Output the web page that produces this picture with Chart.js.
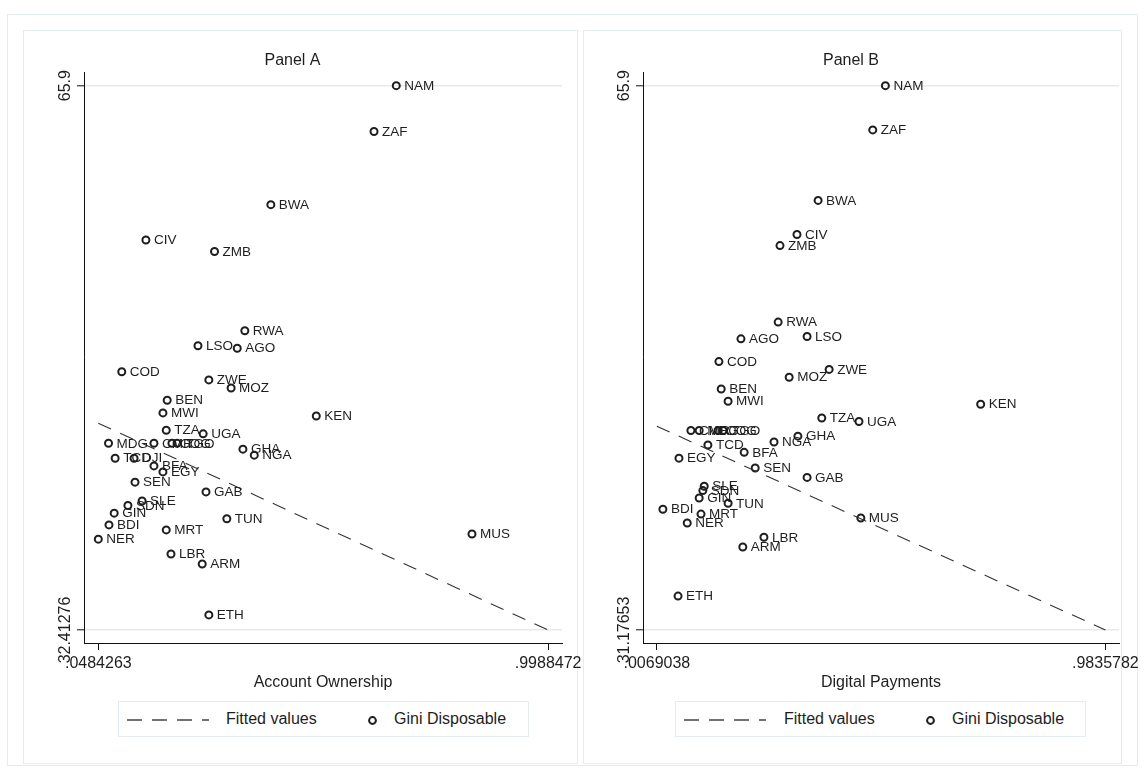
<!DOCTYPE html>
<html lang="en">
<head>
<meta charset="UTF-8" />
<title>Gini Disposable: Panel A / Panel B</title>
<script src="https://cdn.jsdelivr.net/npm/chart.js"></script>
<style>
  * { box-sizing: border-box; margin: 0; padding: 0; }
  body {
    width: 1144px; height: 772px; background: #fff;
    position: relative; overflow: hidden;
    font-family: Arial, "Liberation Sans", Helvetica, sans-serif;
    color: #1e1e1e;
  }
  .box { position: absolute; border: 1px solid #e4ecef; }
  #outer { left: 7px; top: 14px; width: 1131px; height: 752px; }
  #boxA { left: 23px; top: 30px; width: 555px; height: 734px; }
  #boxB { left: 583px; top: 30px; width: 539px; height: 734px; }
  canvas { position: absolute; top: 30px; }
  #chartA { left: 23px; }
  #chartB { left: 583px; }

  /* legend boxes under each panel */
  .legend {
    position: absolute; top: 701px; width: 411px; height: 36px;
    border: 1px solid #e4ecef; background: #fff; font-size: 16px;
  }
  #legA { left: 118px; }
  #legB { left: 675px; }
  .legend span { position: absolute; top: 7px; line-height: 20px; white-space: nowrap; }
  .legend svg { position: absolute; }
</style>
</head>
<body>

<div id="outer" class="box"></div>
<div id="boxA" class="box"></div>
<div id="boxB" class="box"></div>

<canvas id="chartA" width="575" height="670"></canvas>
<canvas id="chartB" width="575" height="670"></canvas>

<div id="legA" class="legend">
  <svg style="left:8px; top:16px" width="84" height="4"><line x1="0" y1="2" x2="82" y2="2" stroke="#444" stroke-width="1.6" stroke-dasharray="15 10"/></svg>
  <span style="left:107px">Fitted values</span>
  <svg style="left:248px; top:13px" width="11" height="11"><circle cx="5.5" cy="5.5" r="3.4" fill="none" stroke="#1e1e1e" stroke-width="2"/></svg>
  <span style="left:275px">Gini Disposable</span>
</div>
<div id="legB" class="legend">
  <svg style="left:8px; top:16px" width="84" height="4"><line x1="0" y1="2" x2="82" y2="2" stroke="#444" stroke-width="1.6" stroke-dasharray="15 10"/></svg>
  <span style="left:108px">Fitted values</span>
  <svg style="left:249px; top:13px" width="11" height="11"><circle cx="5.5" cy="5.5" r="3.4" fill="none" stroke="#1e1e1e" stroke-width="2"/></svg>
  <span style="left:276px">Gini Disposable</span>
</div>

<script>
// country codes and values
const countries = ['NAM','ZAF','BWA','CIV','ZMB','RWA','LSO','AGO','COD','ZWE','MOZ','BEN','MWI','KEN','TZA','UGA',
                   'MDG','CMR','COG','TGO','GHA','NGA','TCD','DJI','BFA','EGY','SEN','GAB','SLE','SDN','GIN','TUN',
                   'BDI','MRT','MUS','NER','LBR','ARM','ETH'];
const giniDisposable = [65.9, 63.08, 58.58, 56.41, 55.70, 50.82, 49.90, 49.75, 48.30, 47.80, 47.30, 46.55, 45.77, 45.58, 44.70, 44.48,
                        43.90, 43.90, 43.90, 43.90, 43.54, 43.17, 42.98, 42.98, 42.51, 42.14, 41.51, 40.91, 40.35, 40.07, 39.60, 39.26,
                        38.88, 38.57, 38.32, 38.00, 37.09, 36.47, 33.34];
const accountOwnership = [0.678, 0.631, 0.413, 0.149, 0.294, 0.358, 0.259, 0.342, 0.098, 0.282, 0.329, 0.194, 0.185, 0.509, 0.192, 0.270,
                          0.070, 0.166, 0.204, 0.215, 0.354, 0.378, 0.084, 0.124, 0.166, 0.185, 0.126, 0.276, 0.141, 0.111, 0.082, 0.320,
                          0.071, 0.192, 0.838, 0.0484263, 0.202, 0.268, 0.282];
const digitalPayments = [0.5045, 0.477, 0.358, 0.312, 0.275, 0.271, 0.334, 0.190, 0.142, 0.382, 0.295, 0.147, 0.162, 0.712, 0.366, 0.447,
                         0.099, 0.081, 0.140, 0.151, 0.314, 0.262, 0.118, null, 0.197, 0.055, 0.221, 0.334, 0.110, 0.107, 0.099, 0.162,
                         0.020, 0.103, 0.451, 0.073, 0.240, 0.194, 0.053];

// fitted lines (end points)
const fittedA_x = [0.0484263, 0.9988472];
const fittedA_y = [45.14, 32.41276];
const fittedB_x = [0.0069038, 0.9835782];
const fittedB_y = [44.18, 31.17653];

// axis ticks (min / max labels)
const xTicksA = [0.0484263, 0.9988472];
const xTickTextA = ['.0484263', '.9988472'];
const yTicksA = [32.41276, 65.9];
const yTickTextA = ['32.41276', '65.9'];
const xTicksB = [0.0069038, 0.9835782];
const xTickTextB = ['.0069038', '.9835782'];
const yTicksB = [31.17653, 65.9];
const yTickTextB = ['31.17653', '65.9'];

const FONT = 'Arial, "Liberation Sans", Helvetica, sans-serif';
const INK = '#1e1e1e';

// marker labels + rotated y labels, Stata style
const stataLook = {
  id: 'stataLook',
  afterDatasetsDraw(chart) {
    const ctx = chart.ctx;
    const ds = chart.data.datasets[1];
    const meta = chart.getDatasetMeta(1);
    ctx.save();
    ctx.font = '13.5px ' + FONT;
    ctx.fillStyle = INK;
    ctx.textBaseline = 'middle';
    ctx.textAlign = 'left';
    meta.data.forEach((pt, i) => {
      ctx.fillText(ds.data[i].code, pt.x + 8, pt.y + 0.5);
    });
    ctx.restore();
  },
  afterDraw(chart, args, opts) {
    const ctx = chart.ctx;
    const ys = chart.scales.y;
    ctx.save();
    ctx.font = '16px ' + FONT;
    ctx.fillStyle = INK;
    ctx.textAlign = 'center';
    ctx.textBaseline = 'bottom';
    opts.values.forEach((v, i) => {
      const py = ys.getPixelForValue(v);
      ctx.save();
      ctx.translate(chart.chartArea.left - 10, py);
      ctx.rotate(-Math.PI / 2);
      ctx.fillText(opts.texts[i], 0, 0);
      ctx.restore();
    });
    ctx.restore();
  }
};

function makePanel(id, title, xName, xVals, fx, fy, xTicks, xText, yTicks, yText, xRange, yRange, leftW, padRight) {
  const pts = [];
  countries.forEach((c, i) => {
    if (xVals[i] !== null) pts.push({ x: xVals[i], y: giniDisposable[i], code: c });
  });
  return new Chart(document.getElementById(id), {
    type: 'scatter',
    data: {
      datasets: [
        {
          label: 'Fitted values',
          data: fx.map((x, i) => ({ x: x, y: fy[i] })),
          showLine: true,
          borderColor: '#333',
          borderWidth: 1.1,
          borderDash: [14, 10],
          pointRadius: 0
        },
        {
          label: 'Gini Disposable',
          data: pts,
          pointRadius: 3.5,
          pointBorderWidth: 2,
          pointBorderColor: INK,
          pointBackgroundColor: 'rgba(0,0,0,0)'
        }
      ]
    },
    options: {
      responsive: false,
      animation: false,
      events: [],
      layout: { padding: { left: 0, right: padRight, top: 0, bottom: 0 } },
      plugins: {
        legend: { display: false },
        tooltip: { enabled: false },
        title: {
          display: true, text: title, color: INK,
          font: { family: FONT, size: 16, weight: 'normal' },
          padding: { top: 21, bottom: 2 }
        },
        stataLook: { values: yTicks, texts: yText }
      },
      scales: {
        x: {
          type: 'linear', min: xRange[0], max: xRange[1],
          afterBuildTicks: s => { s.ticks = xTicks.map(v => ({ value: v })); },
          afterFit: s => { s.height = 57; },
          ticks: {
            autoSkip: false, maxRotation: 0, minRotation: 0, padding: 4,
            color: INK, font: { family: FONT, size: 16 },
            callback: (v, i) => xText[i]
          },
          grid: { drawOnChartArea: false, drawTicks: true, tickLength: 7, tickColor: '#111', tickWidth: 1 },
          border: { display: true, color: '#111', width: 1 },
          title: {
            display: true, text: xName, color: INK,
            font: { family: FONT, size: 16 },
            padding: { top: 0, bottom: 8 }
          }
        },
        y: {
          type: 'linear', min: yRange[0], max: yRange[1],
          afterBuildTicks: s => { s.ticks = yTicks.map(v => ({ value: v })); },
          afterFit: s => { s.width = leftW; },
          ticks: { display: false },
          grid: { color: '#e3ebee', lineWidth: 1.6, drawTicks: true, tickLength: 7, tickColor: '#111', tickWidth: 1 },
          border: { display: true, color: '#111', width: 1 }
        }
      }
    },
    plugins: [stataLook]
  });
}

makePanel('chartA', 'Panel A', 'Account Ownership', accountOwnership, fittedA_x, fittedA_y,
          xTicksA, xTickTextA, yTicksA, yTickTextA, [0.0182, 1.0282], [31.613, 66.73], 61, 36);
makePanel('chartB', 'Panel B', 'Digital Payments', digitalPayments, fittedB_x, fittedB_y,
          xTicksB, xTickTextB, yTicksB, yTickTextB, [-0.0233, 1.0132], [30.347, 66.76], 60, 39);
</script>
</body>
</html>
